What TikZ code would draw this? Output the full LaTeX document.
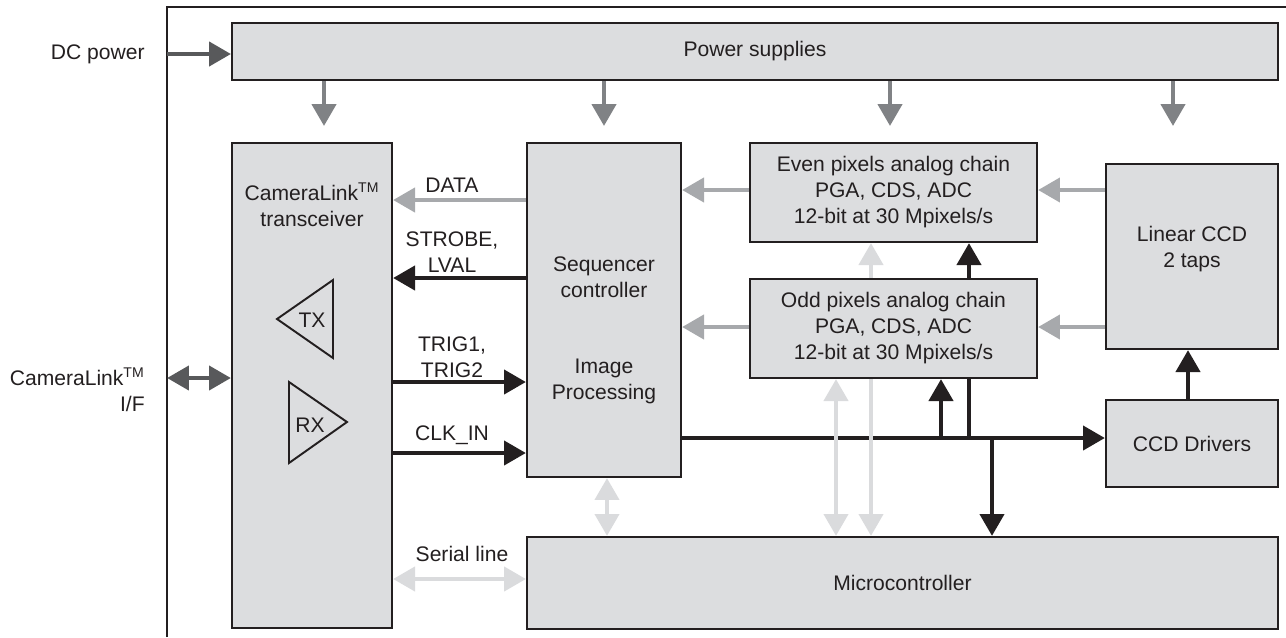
\documentclass[tikz,border=0pt]{standalone}
\usepackage{fontspec}
\setmainfont{Liberation Sans}
\usetikzlibrary{arrows.meta}

\definecolor{boxfill}{RGB}{220,221,223}
\definecolor{inkblack}{RGB}{35,31,32}
\definecolor{darkgrey}{RGB}{88,89,91}
\definecolor{midgrey}{RGB}{128,130,133}
\definecolor{datagrey}{RGB}{167,169,172}
\definecolor{ctlgrey}{RGB}{218,219,221}

\tikzset{
  box/.style={draw=inkblack, line width=1.2pt, fill=boxfill, inner sep=0pt, align=center, text=inkblack},
  lbl/.style={inner sep=0pt, align=center, text=inkblack},
  conn/.style={line width=2.8pt, >={Triangle[length=12.5pt,width=13.5pt]}},
  darkarr/.style={conn, color=darkgrey},
  powarr/.style={conn, color=midgrey},
  datarr/.style={conn, color=datagrey},
  ctlarr/.style={conn, color=ctlgrey},
  blkarr/.style={conn, color=inkblack}
}

\begin{document}
\begin{tikzpicture}[x=0.02cm, y=-0.02cm, font=\fontsize{12}{14.8}\selectfont]
\useasboundingbox (0,0) rectangle (1286,637);

\node[box, minimum width=20.92cm, minimum height=1.14cm] (power) at (755,51.5) {Power supplies};
\node[box, minimum width=3.2cm, minimum height=9.7cm] (camlink) at (312,385.5) {};
\node[box, minimum width=3.08cm, minimum height=6.68cm] (seq) at (604,310) {};
\node[box, minimum width=5.74cm, minimum height=1.98cm] (even) at (893.5,192.5)
  {Even pixels analog chain\\PGA, CDS, ADC\\12-bit at 30 Mpixels/s};
\node[box, minimum width=5.74cm, minimum height=1.98cm] (odd) at (893.5,328.5)
  {Odd pixels analog chain\\PGA, CDS, ADC\\12-bit at 30 Mpixels/s};
\node[box, minimum width=3.44cm, minimum height=3.7cm] (linccd) at (1192,256.5) {};
\node[box, minimum width=3.44cm, minimum height=1.74cm] (drivers) at (1192,443.5) {CCD Drivers};
\node[box, minimum width=15.02cm, minimum height=1.84cm] (micro) at (902.5,583) {Microcontroller};

\node[lbl] (camtext) at (312,205) {CameraLink\textsuperscript{TM}\\transceiver};
\node[lbl] (seqtext) at (604,277) {Sequencer\\controller};
\node[lbl] (imgtext) at (604,381) {Image\\Processing};
\node[lbl] (ccdtext) at (1192,249) {Linear CCD\\2 taps};

\node[lbl, anchor=east] (dclbl) at (145,54) {DC power};
\node[lbl, anchor=east, align=right] (iflbl) at (145,390) {CameraLink\textsuperscript{TM}\\I/F};

\node[lbl] (datalbl) at (452,185) {DATA};
\node[lbl] (strobelbl) at (452,252) {STROBE,\\LVAL};
\node[lbl] (triglbl) at (452,357) {TRIG1,\\TRIG2};
\node[lbl] (clklbl) at (452,435) {CLK\_IN};
\node[lbl] (seriallbl) at (462,554) {Serial line};

\draw[line width=1.1pt, inkblack] (333,280) -- (277,319) -- (333,358) -- cycle;
\node[lbl] (txlbl) at (312,320) {TX};
\draw[line width=1.1pt, inkblack] (289,382) -- (347,422) -- (289,463) -- cycle;
\node[lbl] (rxlbl) at (310,425) {RX};

\coordinate (frametop) at (167,7);
\draw[line width=1.1pt, inkblack] (167,637) -- (frametop) -- (1286,7);

\coordinate (dcin) at (167,54);
\coordinate (ifin) at (167,378);
\coordinate (ydata) at (0,200);
\coordinate (ystrobe) at (0,278);
\coordinate (ytrig) at (0,382);
\coordinate (yclk) at (0,453);
\coordinate (yserial) at (0,579);
\coordinate (yeven) at (0,190);
\coordinate (yodd) at (0,327);
\coordinate (ybus) at (0,438);
\coordinate (xdrv) at (1188,0);
\coordinate (tapodd) at (941,438);
\coordinate (tapeven) at (969,438);
\coordinate (tapmicro) at (992,438);
\coordinate (xseq) at (607,0);
\coordinate (xup) at (836,0);
\coordinate (xdn) at (871,0);

\draw[darkarr, ->] (dcin) -- (power.west |- dcin);
\draw[darkarr, <->] (ifin) -- (camlink.west |- ifin);

\foreach \px in {324,604,890,1173} {
  \coordinate (p\px) at (\px,0);
  \draw[powarr, ->] (power.south -| p\px) -- ++(0,45);
}

\draw[datarr, ->] (seq.west |- ydata) -- (camlink.east |- ydata);
\draw[blkarr, ->] (seq.west |- ystrobe) -- (camlink.east |- ystrobe);
\draw[blkarr, ->] (camlink.east |- ytrig) -- (seq.west |- ytrig);
\draw[blkarr, ->] (camlink.east |- yclk) -- (seq.west |- yclk);
\draw[ctlarr, <->] (camlink.east |- yserial) -- (micro.west |- yserial);

\draw[datarr, ->] (even.west |- yeven) -- (seq.east |- yeven);
\draw[datarr, ->] (odd.west |- yodd) -- (seq.east |- yodd);
\draw[datarr, ->] (linccd.west |- yeven) -- (even.east |- yeven);
\draw[datarr, ->] (linccd.west |- yodd) -- (odd.east |- yodd);
\draw[blkarr, ->] (drivers.north -| xdrv) -- (linccd.south -| xdrv);

\draw[blkarr, ->] (seq.east |- ybus) -- (drivers.west |- ybus);
\draw[blkarr, ->] (tapodd) -- (odd.south -| tapodd);
\draw[blkarr] (tapeven) -- (odd.south -| tapeven);
\draw[blkarr, ->] (odd.north -| tapeven) -- (even.south -| tapeven);
\draw[blkarr, ->] (tapmicro) -- (micro.north -| tapmicro);

\draw[ctlarr, <->] (seq.south -| xseq) -- (micro.north -| xseq);
\draw[ctlarr, <->] (odd.south -| xup) -- (micro.north -| xup);
\draw[ctlarr, ->] (odd.north -| xdn) -- (even.south -| xdn);
\draw[ctlarr, ->] (odd.south -| xdn) -- (micro.north -| xdn);

\end{tikzpicture}
\end{document}
